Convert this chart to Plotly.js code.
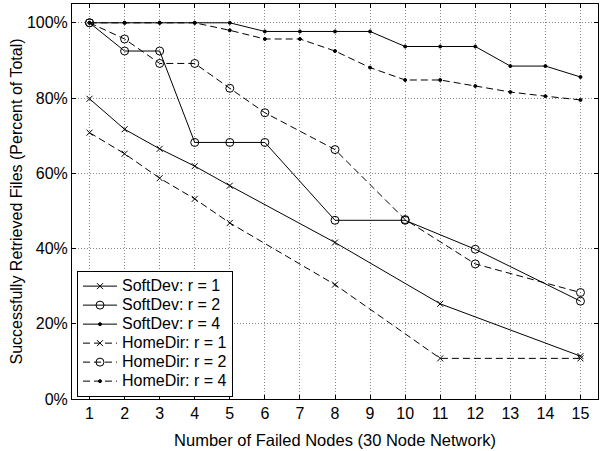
<!DOCTYPE html>
<html><head><meta charset="utf-8">
<script src="https://cdn.plot.ly/plotly-3.0.1.min.js"></script>
<style>body{margin:0;background:#fff}#chart{width:606px;height:451px}</style>
</head><body><div id="chart"></div>
<script>
var softR1X = [1,2,3,4,5,8,11,15];
var softR1Y = [79.8,71.7,66.5,61.9,56.7,41.6,25.3,11.4];
var softR2X = [1,2,3,4,5,6,8,10,12,15];
var softR2Y = [100,92.5,92.5,68.2,68.2,68.2,47.5,47.5,39.8,26.0];
var softR4X = [1,2,3,4,5,6,7,8,9,10,11,12,13,14,15];
var softR4Y = [100,100,100,100,100,97.7,97.7,97.7,97.7,93.7,93.7,93.7,88.5,88.5,85.6];
var homeR1X = [1,2,3,4,5,8,11,15];
var homeR1Y = [70.8,65.2,58.7,53.2,46.8,30.4,10.8,10.8];
var homeR2X = [1,2,3,4,5,6,8,10,12,15];
var homeR2Y = [100,95.7,89.2,89.2,82.6,76.1,66.3,47.7,35.9,28.3];
var homeR4X = [1,2,3,4,5,6,7,8,9,10,11,12,13,14,15];
var homeR4Y = [100,100,100,100,98,95.7,95.7,92.5,88.1,84.8,84.8,83.2,81.6,80.5,79.5];
var names = ['SoftDev: r = 1','SoftDev: r = 2','SoftDev: r = 4','HomeDir: r = 1','HomeDir: r = 2','HomeDir: r = 4'];
var xTicks = [1,2,3,4,5,6,7,8,9,10,11,12,13,14,15];
var yTicks = [0,20,40,60,80,100];
var yTickText = ['0%','20%','40%','60%','80%','100%'];

var FONT = 'Liberation Sans, Arial, Helvetica, sans-serif';
var xs=[softR1X,softR2X,softR4X,homeR1X,homeR2X,homeR4X];
var ys=[softR1Y,softR2Y,softR4Y,homeR1Y,homeR2Y,homeR4Y];
var syms=['x-thin-open','circle-open','circle','x-thin-open','circle-open','circle'];
var sizes=[6,8,3,6,8,3];
var traces=[];
for(var i=0;i<6;i++){
  traces.push({x:xs[i],y:ys[i],name:'<span style="font-size:16px">'+names[i]+'</span>',type:'scatter',mode:'lines+markers',
    line:{color:'#000',width:1,dash:i<3?'solid':'7px,4px'},
    marker:{symbol:syms[i],size:sizes[i],color:'#000',line:{color:'#000',width:1}}});
}
var axisBase={showline:true,linecolor:'#000',linewidth:1,mirror:'allticks',ticks:'inside',ticklen:4,tickcolor:'#000',
  showgrid:true,gridcolor:'#888',griddash:'1px,2px',gridwidth:1,zeroline:false,
  tickfont:{family:FONT,size:16,color:'#000'}};
var layout={
  width:606,height:451,margin:{l:72,r:8,t:4,b:52},
  paper_bgcolor:'#fff',plot_bgcolor:'#fff',
  font:{family:FONT,size:16,color:'#000'},
  xaxis:Object.assign({},axisBase,{range:[0.5,15.5],tickmode:'array',tickvals:xTicks,
    title:{text:'Number of Failed Nodes (30 Node Network)',font:{size:16.5},standoff:13}}),
  yaxis:Object.assign({},axisBase,{range:[0,105],tickmode:'array',tickvals:yTicks,ticktext:yTickText,
    title:{text:'Successfully Retrieved Files (Percent of Total)',font:{size:16},standoff:0}}),
  legend:{x:0.0095,y:0.006,xanchor:'left',yanchor:'bottom',bgcolor:'#fff',bordercolor:'#000',borderwidth:1,
    font:{size:12,family:FONT},tracegroupgap:0,itemwidth:34},
  showlegend:true
};
Plotly.newPlot('chart',traces,layout,{displayModeBar:false,staticPlot:true});
</script></body></html>
